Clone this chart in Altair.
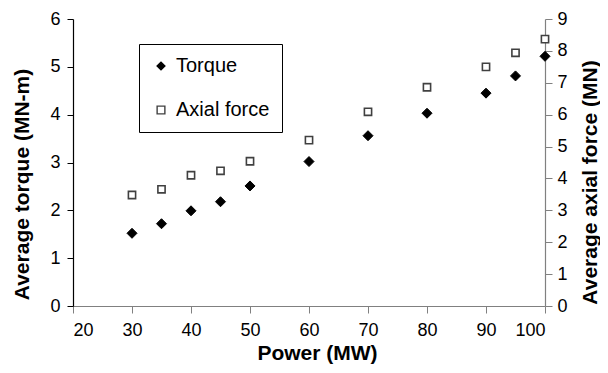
import altair as alt
import pandas as pd

power = [30, 35, 40, 45, 50, 60, 70, 80, 90, 95, 100]
torque = [1.52, 1.72, 1.99, 2.18, 2.51, 3.02, 3.56, 4.03, 4.45, 4.81, 5.22]
axial = [3.48, 3.66, 4.10, 4.24, 4.54, 5.20, 6.09, 6.86, 7.50, 7.94, 8.37]

series_names = ["Torque", "Axial force"]

df_t = pd.DataFrame({"power": power, "value": torque, "series": "Torque"})
df_a = pd.DataFrame({"power": power, "value": axial, "series": "Axial force"})

FONT = "Liberation Sans"

x_enc = alt.X("power:Q", title="Power (MW)",
              scale=alt.Scale(domain=[20, 100], nice=False),
              axis=alt.Axis(values=list(range(20, 101, 10)), grid=False,
                            domainColor="#808080", tickColor="#808080",
                            labelPadding=8, titleX=244, titleY=47,
                            titleAlign="center", titleBaseline="middle", tickSize=7))

shape_scale = alt.Scale(domain=series_names, range=["diamond", "square"])
fill_scale = alt.Scale(domain=series_names, range=["#000000", "#ffffff"])
stroke_scale = alt.Scale(domain=series_names, range=["#000000", "#404040"])

legend = alt.Legend(title=None, orient="none", legendX=66, legendY=25,
                    strokeColor="#000000", fillColor="#ffffff",
                    padding=12, rowPadding=24, labelFontSize=20, labelFont=FONT,
                    labelColor="#000000", symbolOpacity=1,
                    symbolSize=60, symbolStrokeWidth=1.4, labelOffset=5)

torque_layer = alt.Chart(df_t).mark_point(filled=True, size=100, strokeWidth=1, opacity=1).encode(
    x=x_enc,
    y=alt.Y("value:Q", title="Average torque (MN-m)",
            scale=alt.Scale(domain=[0, 6], nice=False),
            axis=alt.Axis(values=[0, 1, 2, 3, 4, 5, 6], grid=False,
                          titleX=-51, titleY=165, titleAngle=270,
                          titleAlign="center", titleBaseline="middle",
                          domainColor="#000000", tickColor="#000000",
                          labelPadding=7, tickSize=6)),
    shape=alt.Shape("series:N", scale=shape_scale, legend=legend),
    fill=alt.Fill("series:N", scale=fill_scale, legend=legend),
    stroke=alt.Stroke("series:N", scale=stroke_scale, legend=legend),
)

axial_layer = alt.Chart(df_a).mark_point(filled=True, size=52, strokeWidth=1.6, opacity=1).encode(
    x=x_enc,
    y=alt.Y("value:Q", title="Average axial force (MN)",
            scale=alt.Scale(domain=[0, 9], nice=False),
            axis=alt.Axis(orient="right", values=list(range(0, 10)), grid=False,
                          titleX=45, titleY=163, titleAngle=270,
                          titleAlign="center", titleBaseline="middle",
                          domainColor="#808080", tickColor="#808080",
                          labelPadding=5, tickSize=7)),
    shape=alt.Shape("series:N", scale=shape_scale, legend=legend),
    fill=alt.Fill("series:N", scale=fill_scale, legend=legend),
    stroke=alt.Stroke("series:N", scale=stroke_scale, legend=legend),
)

chart = alt.layer(torque_layer, axial_layer).resolve_scale(
    y="independent"
).properties(
    width=472, height=287,
    autosize=alt.AutoSizeParams(type="none"),
    padding={"left": 65, "top": 11, "right": 55, "bottom": 59},
).configure_view(
    stroke=None
).configure_axis(
    labelFont=FONT, labelFontSize=18, labelColor="#000000",
    titleFont=FONT, titleFontSize=21, titleFontWeight="bold", titleColor="#000000",
    domainWidth=1.2,
)

chart.save("out.html", embed_options={"renderer": "svg", "actions": False})
